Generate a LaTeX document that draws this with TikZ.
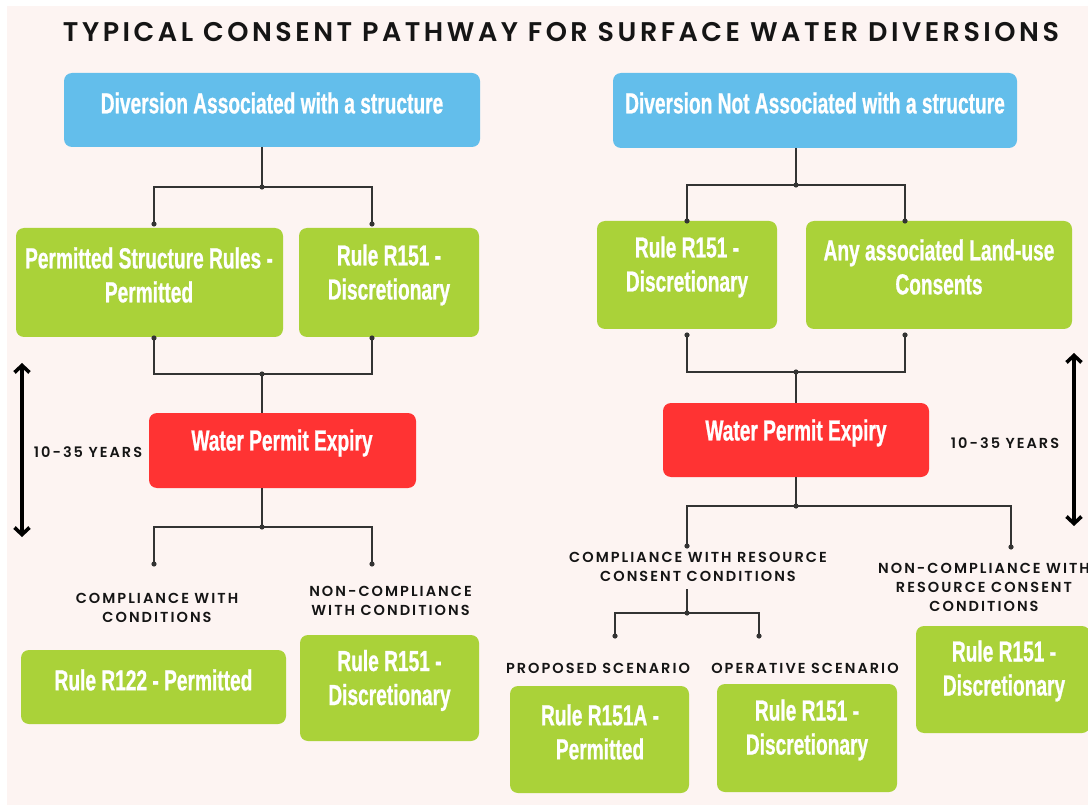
\documentclass[tikz,border=0pt]{standalone}
\usepackage{fontspec}
\usetikzlibrary{arrows.meta}
\newfontfamily\boxfont{Liberation Sans}[FakeStretch=0.66, FakeBold=0.8]
\newfontfamily\lblfont{Poppins}[UprightFont=* SemiBold, LetterSpace=14]
\newfontfamily\titlefont{Poppins}[UprightFont=* SemiBold, LetterSpace=13]
\definecolor{bgc}{HTML}{FDF4F2}
\definecolor{bluec}{HTML}{63BEEB}
\definecolor{greenc}{HTML}{AAD239}
\definecolor{redc}{HTML}{FF3333}
\definecolor{linec}{HTML}{333333}
\definecolor{textc}{HTML}{151515}
\begin{document}
\begin{tikzpicture}[x=1pt,y=-1pt,
  box/.style={rounded corners=8pt, inner sep=0pt, outer sep=0pt},
  btext/.style={text=white, align=center, inner sep=0pt, font=\boxfont\bfseries\fontsize{29}{34}\selectfont},
  lbl/.style={text=textc, align=center, inner sep=0pt, font=\lblfont\fontsize{14.5}{19}\selectfont},
  conn/.style={draw=linec, line width=1.4pt},
  dot/.style={fill=linec},
  bigarrow/.style={line width=3.6pt, {Straight Barb[length=7pt,width=15pt,line width=3.6pt]}-{Straight Barb[length=7pt,width=15pt,line width=3.6pt]}}
]
\useasboundingbox (0,0) rectangle (1088,805);
\fill[white] (0,0) rectangle (1088,805);
\fill[bgc] (7,6) rectangle (1088,805);

% title
\node[font=\titlefont\fontsize{27}{32}\selectfont, text=textc, inner sep=0pt] (title) at (561,32) {TYPICAL CONSENT PATHWAY FOR SURFACE WATER DIVERSIONS};

% boxes
\node[box, fill=bluec, minimum width=416pt, minimum height=74pt] (blueL) at (272,110) {};
\node[box, fill=bluec, minimum width=404pt, minimum height=75pt] (blueR) at (815,110.5) {};
\node[box, fill=greenc, minimum width=267pt, minimum height=109pt] (gL1) at (149.5,282.5) {};
\node[box, fill=greenc, minimum width=180pt, minimum height=109pt] (gL2) at (389,282.5) {};
\node[box, fill=redc, minimum width=267pt, minimum height=75pt] (redL) at (282.5,450.5) {};
\node[box, fill=greenc, minimum width=265pt, minimum height=74pt] (gL3) at (153.5,687) {};
\node[box, fill=greenc, minimum width=179pt, minimum height=106pt] (gL4) at (389.5,688) {};
\node[box, fill=greenc, minimum width=180pt, minimum height=108pt] (gR1) at (687,275) {};
\node[box, fill=greenc, minimum width=266pt, minimum height=108pt] (gR2) at (939,275) {};
\node[box, fill=redc, minimum width=266pt, minimum height=74pt] (redR) at (796,440) {};
\node[box, fill=greenc, minimum width=174pt, minimum height=107pt] (gR3) at (1003,679.5) {};
\node[box, fill=greenc, minimum width=179pt, minimum height=107pt] (gB1) at (599.5,739.5) {};
\node[box, fill=greenc, minimum width=180pt, minimum height=108pt] (gB2) at (807,738) {};

% box texts
\node[btext] (tBL) at (272,103) {Diversion Associated with a structure};
\node[btext] (tBR) at (815,103) {Diversion Not Associated with a structure};
\node[btext] (tL1) at (149,275) {Permitted Structure Rules -\\Permitted};
\node[btext] (tL2) at (389,275) {Rule R151 -\\Discretionary};
\node[btext] (tRL) at (282,443) {Water Permit Expiry};
\node[btext] (tL3) at (153.5,680) {Rule R122 - Permitted};
\node[btext] (tL4) at (389.5,680.5) {Rule R151 -\\Discretionary};
\node[btext] (tR1) at (687,267) {Rule R151 -\\Discretionary};
\node[btext] (tR2) at (939,267) {Any associated Land-use\\Consents};
\node[btext] (tRR) at (796,433) {Water Permit Expiry};
\node[btext] (tR3) at (1004,671) {Rule R151 -\\Discretionary};
\node[btext] (tB1) at (600,732) {Rule R151A -\\Permitted};
\node[btext] (tB2) at (807,730) {Rule R151 -\\Discretionary};

% labels
\node[lbl] (lL1) at (157,607.5) {COMPLIANCE WITH\\CONDITIONS};
\node[lbl] (lL2) at (390.5,600.5) {NON-COMPLIANCE\\WITH CONDITIONS};
\node[lbl] (lR1) at (698,566.5) {COMPLIANCE WITH RESOURCE\\CONSENT CONDITIONS};
\node[lbl] (lR2) at (984,587) {NON-COMPLIANCE WITH\\RESOURCE CONSENT\\CONDITIONS};
\node[lbl] (lB1) at (598,668) {PROPOSED SCENARIO};
\node[lbl] (lB2) at (805,668) {OPERATIVE SCENARIO};
\node[lbl] (yL) at (88,452) {10-35 YEARS};
\node[lbl] (yR) at (1005,443) {10-35 YEARS};

% connector points
\coordinate (jL1) at (262,187);
\coordinate (dL1a) at (154,224);
\coordinate (dL1b) at (372,224);
\coordinate (cL2a) at (154,338);
\coordinate (cL2b) at (372,338);
\coordinate (jL2) at (262,374);
\coordinate (jL3) at (262,527);
\coordinate (dL3a) at (154,564);
\coordinate (dL3b) at (372,564);

\coordinate (jR1) at (796,185);
\coordinate (dR1a) at (687,221);
\coordinate (dR1b) at (905,221);
\coordinate (cR2a) at (687,335);
\coordinate (cR2b) at (905,335);
\coordinate (jR2) at (796,372);
\coordinate (jR3) at (796,506);
\coordinate (dR3a) at (687,546);
\coordinate (dR3b) at (1011,547);
\coordinate (cR4) at (687,589);
\coordinate (jR4) at (687,613);
\coordinate (dR4a) at (615,636);
\coordinate (dR4b) at (759,636);

% connectors
\draw[conn] (blueL.south -| jL1) -- (jL1);
\draw[conn] (dL1a) |- (jL1) -| (dL1b);
\draw[conn] (cL2a) |- (jL2) -| (cL2b);
\draw[conn] (jL2) -- (redL.north -| jL2);
\draw[conn] (redL.south -| jL3) -- (jL3);
\draw[conn] (dL3a) |- (jL3) -| (dL3b);

\draw[conn] (blueR.south -| jR1) -- (jR1);
\draw[conn] (dR1a) |- (jR1) -| (dR1b);
\draw[conn] (cR2a) |- (jR2) -| (cR2b);
\draw[conn] (jR2) -- (redR.north -| jR2);
\draw[conn] (redR.south -| jR3) -- (jR3);
\draw[conn] (dR3a) |- (jR3) -| (dR3b);
\draw[conn] (cR4) -- (jR4);
\draw[conn] (dR4a) |- (jR4) -| (dR4b);

\foreach \p in {jL1,dL1a,dL1b,cL2a,cL2b,jL2,jL3,dL3a,dL3b,jR1,dR1a,dR1b,cR2a,cR2b,jR2,jR3,dR3a,dR3b,jR4,dR4a,dR4b}
  \fill[dot] (\p) circle (2.6pt);

% duration arrows
\coordinate (aLt) at (22,363);
\coordinate (aLb) at (22,537);
\coordinate (aRt) at (1074,353);
\coordinate (aRb) at (1074,526);
\draw[bigarrow] (aLt) -- (aLb);
\draw[bigarrow] (aRt) -- (aRb);
\end{tikzpicture}
\end{document}
